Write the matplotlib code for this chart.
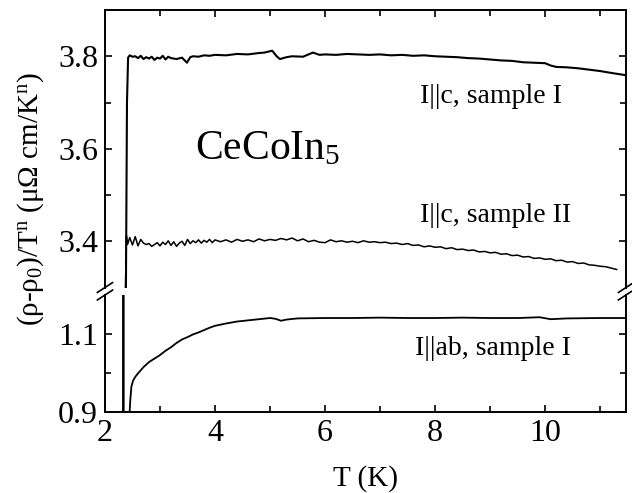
import matplotlib
matplotlib.use("Agg")
import matplotlib.pyplot as plt

plt.rcParams['font.family'] = ['Liberation Serif', 'DejaVu Serif']
plt.rcParams['mathtext.fontset'] = 'custom'
plt.rcParams['mathtext.rm'] = 'Liberation Serif'
plt.rcParams['mathtext.it'] = 'Liberation Serif:italic'

# I||c, sample I
t1 = [2.338, 2.338, 2.38, 2.40, 2.42, 2.45, 2.5, 2.55, 2.6, 2.65, 2.7, 2.75, 2.8, 2.85, 2.9,
      2.95, 3.0, 3.05, 3.1, 3.15, 3.2, 3.3, 3.4, 3.49, 3.55, 3.6, 3.7, 3.8, 3.9, 4.0,
      4.2, 4.4, 4.6, 4.8, 4.9, 5.04, 5.12, 5.18, 5.3, 5.4, 5.6, 5.78, 5.9, 6.0, 6.2,
      6.4, 6.6, 6.8, 7.0, 7.2, 7.4, 7.6, 7.8, 8.0, 8.2, 8.4, 8.6, 8.8, 9.0, 9.2,
      9.4, 9.6, 9.8, 10.0, 10.1, 10.2, 10.4, 10.6, 10.8, 11.0, 11.2, 11.47]
rho1 = [0.5, 1.25, 3.28, 3.70, 3.797, 3.802, 3.799, 3.800, 3.796, 3.801, 3.794, 3.798, 3.795,
        3.799, 3.792, 3.797, 3.795, 3.801, 3.793, 3.799, 3.796, 3.794, 3.797, 3.786, 3.798,
        3.800, 3.799, 3.802, 3.801, 3.803, 3.802, 3.805, 3.804, 3.807, 3.808, 3.812, 3.800,
        3.794, 3.798, 3.800, 3.799, 3.808, 3.803, 3.804, 3.803, 3.805, 3.804, 3.803, 3.804,
        3.802, 3.803, 3.801, 3.802, 3.800, 3.799, 3.798, 3.796, 3.795, 3.793, 3.791,
        3.790, 3.787, 3.786, 3.785, 3.780, 3.777, 3.776, 3.774, 3.771, 3.768, 3.764, 3.759]

# I||c, sample II
t2 = [2.325, 2.325, 2.37, 2.39, 2.41,
      2.45, 2.50, 2.55, 2.60, 2.65, 2.70, 2.75, 2.80, 2.85, 2.90, 2.95, 3.00, 3.05, 3.10,
      3.15, 3.20, 3.25, 3.30, 3.35, 3.40, 3.45, 3.50, 3.55, 3.60, 3.65, 3.70, 3.75, 3.80,
      3.85, 3.90, 3.95, 4.00,
      4.1, 4.2, 4.3, 4.4, 4.5, 4.6, 4.7, 4.8, 4.9, 5.0, 5.1, 5.2, 5.3, 5.4, 5.5, 5.6, 5.7,
      5.8, 5.9, 6.0, 6.1, 6.2, 6.3, 6.4, 6.5, 6.6, 6.7, 6.8, 6.9, 7.0, 7.1, 7.2, 7.3, 7.4,
      7.5, 7.6, 7.7, 7.8, 7.9, 8.0, 8.1, 8.2, 8.3, 8.4, 8.5, 8.6, 8.7, 8.8, 8.9, 9.0, 9.1,
      9.2, 9.3, 9.4, 9.5, 9.6, 9.7, 9.8, 9.9, 10.0, 10.1, 10.2, 10.3, 10.4, 10.5, 10.6,
      10.7, 10.8, 10.9, 11.0, 11.1, 11.2, 11.3]
rho2 = [0.5, 1.25, 3.28, 3.412, 3.393,
        3.408, 3.392, 3.410, 3.390, 3.404, 3.396, 3.393, 3.395, 3.389, 3.393, 3.397, 3.390,
        3.398, 3.393, 3.401, 3.391, 3.399, 3.389, 3.396, 3.400, 3.391, 3.404, 3.395, 3.401,
        3.397, 3.403, 3.396, 3.402, 3.398, 3.404, 3.397, 3.403,
        3.399, 3.403, 3.398, 3.404, 3.400, 3.403, 3.399, 3.405, 3.401, 3.404, 3.402, 3.406,
        3.403, 3.407, 3.401, 3.405, 3.399, 3.402, 3.398, 3.397, 3.403, 3.399, 3.401, 3.398,
        3.400, 3.397, 3.401, 3.398, 3.399, 3.397, 3.398, 3.395, 3.396, 3.393, 3.395, 3.391,
        3.392, 3.388, 3.390, 3.387, 3.388, 3.384, 3.386, 3.382, 3.383, 3.380, 3.381, 3.377,
        3.378, 3.375, 3.376, 3.372, 3.373, 3.369, 3.370, 3.366, 3.367, 3.363, 3.364, 3.361,
        3.362, 3.358, 3.359, 3.355, 3.356, 3.352, 3.353, 3.349, 3.348, 3.346, 3.345, 3.342,
        3.339]

# I||ab, sample I
t3 = [2.44, 2.46, 2.48, 2.51, 2.55, 2.6, 2.7, 2.8, 2.9, 3.0, 3.1, 3.2, 3.3, 3.4, 3.5, 3.6,
      3.7, 3.8, 3.9, 4.0, 4.2, 4.4, 4.6, 4.8, 5.0, 5.1, 5.2, 5.3, 5.5, 6.0, 6.5, 7.0, 7.5,
      8.0, 8.5, 9.0, 9.5, 9.9, 10.1, 10.4, 11.0, 11.47]
rho3 = [0.88, 0.93, 0.965, 0.980, 0.990, 0.999, 1.015, 1.028, 1.037, 1.046, 1.057, 1.066,
        1.077, 1.086, 1.092, 1.099, 1.104, 1.110, 1.116, 1.121, 1.127, 1.132, 1.135, 1.138,
        1.141, 1.139, 1.134, 1.137, 1.140, 1.141, 1.141, 1.142, 1.141, 1.141, 1.142, 1.141,
        1.141, 1.143, 1.138, 1.140, 1.141, 1.141]

L, W = 0.1661, 0.8244
fig = plt.figure(figsize=(6.32, 4.93), dpi=100)
ax_top = fig.add_axes([L, 0.4168, W, 0.5629])
ax_bot = fig.add_axes([L, 0.1643, W, 0.2373])

for ax in (ax_top, ax_bot):
    ax.plot(t1, rho1, color='black', lw=1.5)
    ax.plot(t2, rho2, color='black', lw=1.1)
    ax.plot(t3, rho3, color='black', lw=1.3)
    ax.set_xlim(2, 11.47)
    ax.set_xticks([2, 4, 6, 8, 10])
    ax.set_xticks([3, 5, 7, 9, 11], minor=True)
    ax.tick_params(which='both', direction='in', right=True, labelsize=23, width=1.2, pad=5)
    ax.tick_params(which='major', length=5)
    ax.tick_params(which='minor', length=4)
    for s in ax.spines.values():
        s.set_linewidth(1.4)

ax_top.set_ylim(3.3, 3.9)
ax_top.set_yticks([3.4, 3.6, 3.8])
ax_top.set_yticks([3.5, 3.7], minor=True)
ax_top.spines['bottom'].set_visible(False)
ax_top.tick_params(which='both', bottom=False, labelbottom=False, top=True)

ax_bot.set_ylim(0.9, 1.2)
ax_bot.set_yticks([0.9, 1.1])
ax_bot.set_yticks([1.0], minor=True)
ax_bot.spines['top'].set_visible(False)
ax_bot.tick_params(which='both', top=False)
ax_bot.set_xlabel('T (K)', fontsize=21, labelpad=12)

# break marks
for x in (0, 1):
    for yb in (0.4168, 0.4016):
        fig.add_artist(plt.Line2D([L + W * x - 0.012, L + W * x + 0.012],
                                  [yb - 0.010, yb + 0.010],
                                  color='black', lw=1.2, transform=fig.transFigure,
                                  clip_on=False))

ax_top.text(7.73, 3.714, 'I||c, sample I', fontsize=20, va='center')
ax_top.text(7.73, 3.456, 'I||c, sample II', fontsize=20, va='center')
ax_top.text(3.64, 3.60, 'CeCoIn$_5$', fontsize=30, va='center')
ax_bot.text(7.64, 1.064, 'I||ab, sample I', fontsize=20, va='center')

fig.text(0.048, 0.596, '(ρ-ρ$_0$)/T$^\\mathrm{n}$ (μΩ cm/K$^\\mathrm{n}$)', rotation=90,
         fontsize=21, ha='center', va='center')

fig.savefig('out.png', dpi=100)
